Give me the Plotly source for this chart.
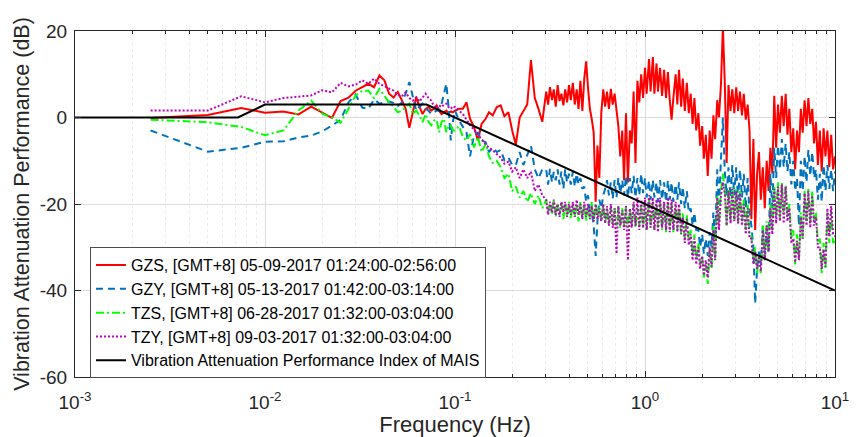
import plotly.graph_objects as go

# ---------------- data ----------------
F_LOW = [0.0025, 0.005, 0.0075, 0.01, 0.0125, 0.015, 0.0175, 0.02, 0.0225, 0.025,
         0.0275, 0.03, 0.0325, 0.035, 0.0375, 0.04, 0.0425, 0.045, 0.0475, 0.05,
         0.0525, 0.055, 0.0575, 0.06, 0.0625, 0.065, 0.0675, 0.07, 0.0725, 0.075,
         0.0775, 0.08, 0.0825, 0.085, 0.0875, 0.09, 0.0925, 0.095, 0.0975]
F_MID = [0.100, 0.105, 0.110, 0.115, 0.120, 0.126, 0.132, 0.138, 0.145, 0.151,
         0.158, 0.166, 0.174, 0.182, 0.191, 0.200, 0.209, 0.219, 0.229, 0.240,
         0.251, 0.263, 0.275, 0.288]
F_HIGH = [0.302, 0.309, 0.316, 0.324, 0.331, 0.339, 0.347, 0.355, 0.363, 0.372,
          0.380, 0.389, 0.398, 0.407, 0.417, 0.427, 0.437, 0.447, 0.457, 0.468,
          0.479, 0.490, 0.501, 0.513, 0.525, 0.537, 0.550, 0.562, 0.575, 0.589,
          0.603, 0.617, 0.631, 0.646, 0.661, 0.676, 0.692, 0.708, 0.724, 0.741,
          0.759, 0.776, 0.794, 0.813, 0.832, 0.851, 0.871, 0.891, 0.912, 0.933,
          0.955, 0.977, 1.00, 1.02, 1.05, 1.07, 1.10, 1.12, 1.15, 1.17,
          1.20, 1.23, 1.26, 1.29, 1.32, 1.35, 1.38, 1.41, 1.45, 1.48,
          1.51, 1.55, 1.58, 1.62, 1.66, 1.70, 1.74, 1.78, 1.82, 1.86,
          1.91, 1.95, 2.00, 2.04, 2.09, 2.14, 2.19, 2.24, 2.29, 2.34,
          2.40, 2.45, 2.51, 2.57, 2.63, 2.69, 2.75, 2.82, 2.88, 2.95,
          3.02, 3.09, 3.16, 3.24, 3.31, 3.39, 3.47, 3.55, 3.63, 3.72,
          3.80, 3.89, 3.98, 4.07, 4.17, 4.27, 4.37, 4.47, 4.57, 4.68,
          4.79, 4.90, 5.01, 5.13, 5.25, 5.37, 5.50, 5.62, 5.75, 5.89,
          6.03, 6.17, 6.31, 6.46, 6.61, 6.76, 6.92, 7.08, 7.24, 7.41,
          7.59, 7.76, 7.94, 8.13, 8.32, 8.51, 8.71, 8.91, 9.12, 9.33,
          9.55, 9.77, 10.0]

GZS_LOW = [-0.1, 0.6, 2.2, 1.1, 1.4, 0.7, 2.5, 1.2, -0.1, 3.8,
           4.6, 6.2, 7.1, 7.8, 7.0, 9.7, 8.6, 5.5, 4.6, 5.9,
           4.0, 2.0, -2.4, 1.0, 4.7, 2.5, 0.8, 2.0, 2.4, 1.6,
           2.0, 2.8, 1.5, 0.8, 1.2, 1.6, 1.0, 1.4, 1.2]
GZS_MID = [1.6, 2.0, 2.0, 3.5, -0.3, -2.2, -5.3, -1.5, -0.3, 1.2,
           0.5, 2.4, 2.8, 0.3, 1.2, -3.0, -6.3, 0.0, 1.5, 3.0,
           13.3, 4.5, 2.0, -1.0]
GZS_HIGH = [6.0, 3.0, 7.0, 4.0, 6.5, 2.5, 7.5, 3.8, 5.5, 2.8,
            6.5, 3.5, 7.5, 4.0, 8.0, 3.0, 6.5, 2.0, 8.5, 1.5,
            9.0, 13.0, 7.0, 2.0, -0.5, -3.5, -19.5, -6.5, -14.0, 1.2,
            6.5, 2.5, 6.0, 2.0, 6.6, 3.0, 5.5, 1.0, -2.0, -9.0,
            -3.0, -14.5, 1.0, -15.0, -3.0, -6.0, 6.0, -10.5, 8.5, 3.5,
            10.0, 4.5, 11.5, 5.5, 13.5, 6.0, 14.0, 5.5, 12.5, 6.0,
            11.5, 5.0, 11.0, 4.5, 10.5, 4.0, -0.5, 4.5, 10.0, 3.0,
            11.0, 2.5, 9.0, 1.5, 8.0, 1.0, 5.5, -1.5, 4.5, -3.0,
            1.0, -6.5, -2.0, -9.5, -4.0, -13.5, -3.0, -9.5, 0.5, -5.0,
            4.0, 0.0, 7.5, 21.0, 8.0, -10.5, 7.5, 1.5, 6.5, 1.0,
            7.0, 1.5, 6.0, 0.5, 5.5, -0.5, 3.0, -3.0, -23.5, -5.0,
            -26.0, -13.0, -8.0, -19.0, -11.5, -21.0, -10.0, -17.0, -7.0, -13.0,
            5.0, -7.0, 3.0, -3.5, 5.0, -2.0, 5.5, -4.0, 2.0, -8.0,
            -2.5, -12.0, -3.0, -8.0, 2.0, -3.5, 4.0, -2.0, 4.5, -1.5,
            2.0, -6.0, -1.0, -11.0, -3.0, -12.5, -2.5, -9.0, -3.0, -11.5,
            -4.0, -12.0, -9.0]

GZY_LOW = [-3.0, -7.9, -7.0, -5.6, -5.5, -4.6, -4.2, -3.2, -1.9, -0.5,
           3.5, 5.3, 2.3, 2.0, 4.2, 3.2, 3.5, 3.7, 3.4, 2.6,
           3.5, 5.5, 8.2, 4.5, 1.6, 2.5, 3.2, 2.0, 1.6, 0.8,
           1.2, 1.6, 1.6, 3.2, 5.5, 7.8, 2.4, -5.3, -1.0]
GZY_MID = [1.6, -0.7, -2.0, -3.5, -9.0, -4.0, -3.5, -5.3, -5.7, -8.0,
           -6.9, -8.0, -7.5, -9.9, -9.2, -11.0, -11.0, -8.0, -11.0, -8.5,
           -6.5, -12.0, -14.1, -12.0]
GZY_HIGH = [-12.0, -15.5, -11.9, -15.0, -12.6, -14.5, -12.0, -15.5, -12.5, -16.5,
            -12.0, -15.0, -13.0, -15.5, -12.5, -16.0, -13.0, -15.5, -14.0, -16.5,
            -16.0, -19.5, -18.0, -21.5, -22.0, -25.0, -32.0, -24.0, -19.0, -21.0,
            -18.0, -16.5, -14.5, -18.0, -15.0, -18.8, -14.5, -18.5, -14.0, -17.5,
            -14.5, -18.0, -13.5, -18.5, -14.0, -17.5, -13.5, -18.5, -14.0, -18.0,
            -13.0, -17.5, -14.0, -18.5, -14.5, -19.0, -14.5, -18.5, -15.0, -19.5,
            -14.5, -19.0, -15.0, -19.5, -14.5, -19.0, -15.0, -19.5, -15.5, -19.0,
            -15.0, -20.0, -16.0, -21.0, -17.0, -22.0, -21.0, -25.0, -22.0, -26.0,
            -26.0, -30.0, -27.0, -31.5, -28.0, -32.0, -26.5, -30.0, -22.0, -28.0,
            -12.0, -20.0, -11.0, 0.0, -12.5, -18.0, -11.5, -18.5, -11.0, -18.0,
            -11.5, -19.0, -12.0, -18.5, -13.0, -21.0, -14.0, -22.0, -25.0, -30.0,
            -43.0, -35.0, -31.0, -34.0, -25.0, -32.0, -26.0, -31.0, -13.0, -21.0,
            -7.0, -14.0, -6.5, -12.0, -5.0, -11.5, -6.0, -12.5, -8.0, -15.5,
            -10.0, -17.0, -14.0, -25.0, -10.0, -17.0, -9.0, -15.0, -7.5, -13.5,
            -8.0, -14.0, -12.0, -19.0, -13.0, -19.5, -11.0, -17.0, -11.0, -16.5,
            -12.0, -17.0, -12.5]

TZS_LOW = [-0.5, -1.1, -2.2, -4.1, -3.0, 1.6, 3.9, 0.9, 0.0, -1.2,
           2.0, 5.1, 6.2, 6.2, 4.5, 6.6, 5.0, 3.5, 2.5, 1.2,
           1.6, 2.5, 3.2, 0.8, 1.6, 0.5, -1.1, 0.8, -1.0, -1.8,
           -0.7, -0.5, -3.4, -1.0, -0.3, -3.4, -2.0, -1.8, -3.0]
TZS_MID = [-3.0, -2.0, -4.5, -5.3, -3.8, -6.9, -4.5, -8.0, -6.1, -9.0,
           -10.5, -10.0, -11.5, -14.0, -13.0, -17.0, -16.0, -18.5, -17.0, -19.5,
           -17.5, -20.0, -18.0, -21.0]
TZS_HIGH = [-19.0, -22.0, -19.5, -22.5, -19.0, -23.0, -20.0, -22.5, -19.5, -23.5,
            -20.0, -23.0, -19.5, -23.5, -20.0, -23.0, -20.5, -24.0, -19.5, -23.5,
            -20.0, -24.0, -20.5, -23.5, -19.5, -24.0, -20.0, -23.5, -20.5, -24.0,
            -20.0, -24.5, -21.0, -25.0, -20.5, -24.5, -21.0, -25.0, -20.5, -25.5,
            -21.0, -25.0, -20.5, -25.5, -21.0, -25.0, -20.0, -25.5, -21.0, -25.0,
            -20.5, -25.5, -19.5, -26.0, -19.0, -25.5, -19.5, -26.0, -20.0, -25.5,
            -19.5, -26.0, -20.0, -26.5, -19.5, -26.0, -20.0, -26.5, -20.5, -26.0,
            -20.5, -27.0, -22.0, -28.0, -22.5, -28.5, -26.0, -32.0, -27.0, -33.0,
            -29.0, -34.0, -32.0, -37.0, -34.0, -38.5, -30.0, -35.0, -25.0, -33.0,
            -18.0, -25.0, -17.0, -13.0, -17.0, -25.0, -16.5, -24.0, -16.0, -24.0,
            -16.5, -24.5, -17.0, -24.0, -19.0, -26.0, -20.0, -27.0, -27.0, -33.0,
            -30.0, -36.0, -32.0, -36.0, -25.0, -33.0, -24.0, -31.0, -20.0, -26.0,
            -16.0, -23.0, -15.0, -23.5, -15.0, -22.5, -15.5, -23.0, -20.0, -28.0,
            -26.0, -34.0, -27.0, -33.0, -22.0, -28.0, -17.0, -24.0, -16.5, -24.5,
            -17.0, -24.0, -22.0, -29.0, -28.0, -36.0, -29.0, -35.0, -22.0, -29.0,
            -21.5, -29.0, -28.5]

TZY_LOW = [1.6, 1.6, 4.9, 3.5, 4.5, 4.9, 5.1, 6.3, 5.8, 8.0,
           7.2, 7.6, 8.6, 7.8, 9.0, 7.8, 7.2, 6.6, 6.2, 5.2,
           4.9, 5.8, 4.5, 3.9, 4.7, 3.7, 4.6, 5.5, 4.5, 3.9,
           2.6, 2.0, 2.8, 2.4, 3.0, 3.2, 2.4, 2.0, 2.6]
TZY_MID = [2.4, 1.6, 0.8, -0.5, -1.8, -2.8, -3.8, -5.0, -6.2, -7.0,
           -7.6, -8.4, -9.3, -10.7, -10.2, -12.5, -11.5, -14.0, -12.0, -14.0,
           -12.5, -17.0, -15.5, -18.0]
TZY_HIGH = [-19.0, -22.5, -19.5, -22.0, -19.0, -22.5, -20.0, -23.0, -19.5, -22.0,
            -19.5, -23.0, -20.0, -22.5, -19.5, -23.0, -19.0, -22.5, -20.0, -23.5,
            -19.5, -23.0, -20.0, -23.5, -20.5, -24.0, -20.0, -23.5, -21.0, -24.0,
            -20.0, -24.5, -20.5, -25.0, -20.0, -25.5, -21.0, -31.5, -20.5, -25.0,
            -21.5, -26.0, -20.5, -33.0, -21.0, -25.5, -19.5, -25.0, -18.5, -26.0,
            -19.0, -25.5, -18.5, -26.0, -18.0, -25.5, -18.5, -26.0, -19.0, -26.5,
            -18.5, -25.5, -19.5, -26.0, -18.5, -26.5, -19.0, -26.0, -19.5, -26.5,
            -20.0, -27.0, -23.0, -29.0, -23.5, -29.5, -27.0, -33.0, -28.0, -34.0,
            -30.0, -35.0, -32.0, -36.5, -33.0, -37.0, -30.0, -34.5, -26.0, -33.0,
            -18.5, -26.0, -18.0, -15.0, -17.5, -25.0, -17.0, -24.5, -16.5, -24.0,
            -17.0, -24.5, -17.5, -25.0, -20.0, -27.0, -21.0, -28.0, -28.0, -34.0,
            -31.0, -35.0, -32.0, -35.5, -26.0, -33.0, -25.0, -31.0, -21.0, -27.0,
            -16.5, -24.5, -16.0, -24.0, -15.5, -24.5, -16.0, -24.0, -21.0, -29.0,
            -28.0, -33.5, -28.5, -33.0, -23.0, -28.0, -17.5, -25.0, -17.0, -25.5,
            -18.0, -25.0, -23.0, -30.0, -30.0, -35.0, -30.5, -34.5, -21.0, -27.5,
            -20.5, -27.0, -27.5]

INDEX_F = [0.001, 0.0072, 0.01, 0.0708, 10.0]
INDEX_DB = [0.0, 0.0, 3.0, 3.0, -40.0]

X_TICKS = [0.001, 0.01, 0.1, 1, 10]
X_TICK_TEXT = ["10<sup>-3</sup>", "10<sup>-2</sup>", "10<sup>-1</sup>", "10<sup>0</sup>", "10<sup>1</sup>"]
Y_TICKS = [20, 0, -20, -40, -60]
Y_TICK_TEXT = ["20", "0", "-20", "-40", "-60"]

NAMES = ["GZS, [GMT+8] 05-09-2017 01:24:00-02:56:00",
         "GZY, [GMT+8] 05-13-2017 01:42:00-03:14:00",
         "TZS, [GMT+8] 06-28-2017 01:32:00-03:04:00",
         "TZY, [GMT+8] 09-03-2017 01:32:00-03:04:00",
         "Vibration Attenuation Performance Index of MAIS"]

FREQ = F_LOW + F_MID + F_HIGH
SERIES = [GZS_LOW + GZS_MID + GZS_HIGH,
          GZY_LOW + GZY_MID + GZY_HIGH,
          TZS_LOW + TZS_MID + TZS_HIGH,
          TZY_LOW + TZY_MID + TZY_HIGH]
for s in SERIES:
    assert len(s) == len(FREQ), (len(s), len(FREQ))

STYLES = [
    dict(color="#FF0000", width=2, dash="solid"),
    dict(color="#0072BD", width=2, dash="7px,5px"),
    dict(color="#00FF00", width=2, dash="8px,3px,2px,3px"),
    dict(color="#BF00BF", width=2, dash="2px,2px"),
]

FONT = "Liberation Sans, Arial, sans-serif"

fig = go.Figure()
for name, vals, st in zip(NAMES[:4], SERIES, STYLES):
    fig.add_trace(go.Scatter(x=FREQ, y=vals, mode="lines", name=name, line=st))
fig.add_trace(go.Scatter(x=INDEX_F, y=INDEX_DB, mode="lines", name=NAMES[4],
                         line=dict(color="#000000", width=2)))

minor_x = [m * 10.0 ** e for e in range(-3, 1) for m in range(2, 10)]

fig.update_layout(
    width=861, height=437,
    margin=dict(l=75, r=26, t=31, b=60),
    paper_bgcolor="white", plot_bgcolor="white",
    font=dict(family=FONT, color="#262626"),
    showlegend=True,
    legend=dict(x=0.0197, y=0.186, xanchor="left", yanchor="middle",
                bgcolor="white", bordercolor="#4d4d4d", borderwidth=1,
                font=dict(size=16, color="#000000", family=FONT),
                tracegroupgap=0, itemwidth=30),
    xaxis=dict(type="log", range=[-3, 1], automargin=False,
               tickmode="array", tickvals=X_TICKS, ticktext=X_TICK_TEXT,
               tickfont=dict(size=19, color="#262626"), ticklabelstandoff=8,
               ticks="inside", ticklen=6, tickcolor="#262626",
               showline=True, linecolor="#262626", linewidth=1, mirror="allticks",
               showgrid=True, gridcolor="#dcdcdc", gridwidth=1,
               minor=dict(tickvals=minor_x, ticks="inside", ticklen=3, tickcolor="#262626",
                          showgrid=True, gridcolor="#ececec", griddash="dot"),
               zeroline=False,
               title=dict(text="Frequency (Hz)", font=dict(size=22, color="#262626"), standoff=2)),
    yaxis=dict(range=[-60, 20], automargin=False,
               tickmode="array", tickvals=Y_TICKS, ticktext=Y_TICK_TEXT,
               tickfont=dict(size=19, color="#262626"), ticklabelstandoff=3,
               ticks="inside", ticklen=6, tickcolor="#262626",
               showline=True, linecolor="#262626", linewidth=1, mirror="allticks",
               showgrid=True, gridcolor="#dcdcdc", gridwidth=1,
               zeroline=False,
               title=dict(text="Vibration Attenuation Performance (dB)",
                          font=dict(size=21.5, color="#262626"), standoff=4)),
)

fig.write_html("out.html")
